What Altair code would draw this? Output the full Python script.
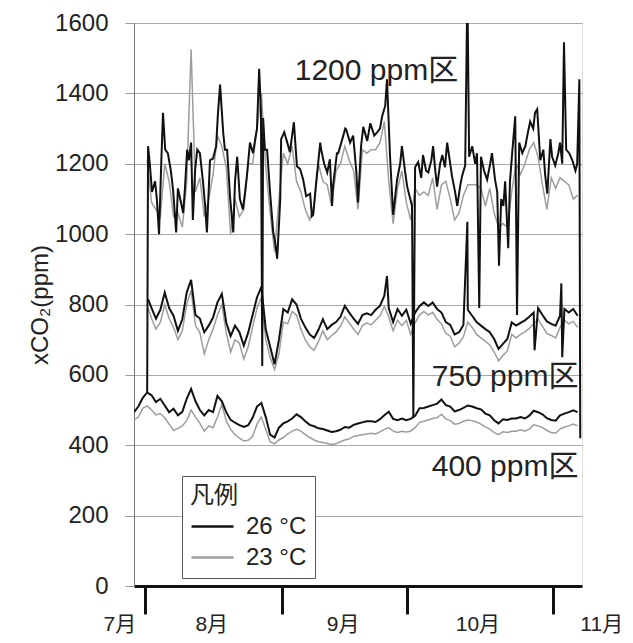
import altair as alt
import pandas as pd

# ---------------- data ----------------
# x = days from the left edge of the plot (about 28 July); y = xCO2 (ppm)

# 1200 ppm zone, 26 °C
days_1200_26 = [3.0, 3.2, 3.6, 4.1, 4.8, 5.2, 5.7, 6.2, 6.6, 7.1, 7.7, 8.4, 8.9, 9.6, 10.0, 10.7, 11.2, 11.6, 12.1, 12.5,
                13.0, 13.4, 13.9, 14.4, 15.0, 15.7, 16.2, 16.6, 17.3, 18.0, 18.7, 19.1, 19.6, 20.3, 20.7, 21.2, 21.9, 22.6, 23.0, 23.5,
                24.1, 24.8, 25.3, 25.7, 26.4, 27.1, 27.6, 28.0, 28.5, 28.9, 29.2, 29.4, 29.8, 30.3, 31.0, 31.7, 32.1, 32.6, 33.3, 33.5,
                34.2, 34.9, 35.5, 36.4, 37.1, 37.8, 38.5, 39.2, 40.1, 40.5, 40.8, 41.5, 42.4, 42.6, 43.3, 44.0, 44.6, 45.1, 45.3, 46.2,
                46.5, 47.2, 48.1, 48.3, 49.2, 49.9, 50.6, 51.0, 51.7, 52.2, 53.1, 53.8, 54.7, 55.4, 56.0, 56.5, 57.2, 57.6, 58.3, 59.0,
                59.9, 60.6, 61.0, 61.7, 62.2, 62.9, 63.3, 63.6, 64.0, 64.7, 65.4, 65.8, 66.5, 67.0, 67.7, 68.1, 68.6, 69.0, 69.7, 70.2,
                70.8, 71.3, 72.0, 72.4, 73.1, 73.6, 74.3, 74.7, 75.4, 75.9, 76.3, 77.0, 77.7, 78.1, 78.6, 79.0, 79.7, 80.4, 81.1, 81.5,
                82.2, 82.7, 83.1, 83.6, 84.1, 84.5, 85.2, 85.6, 86.1, 86.8, 87.2, 87.7, 88.4, 89.1, 89.7, 90.2, 90.9, 91.3, 91.8, 92.5,
                93.2, 93.6, 94.1, 94.8, 95.2, 95.9, 96.6, 97.0, 97.5, 97.9, 98.4, 99.1, 99.8, 100.5, 100.9, 101.4, 101.6]
co2_1200_26 = [550, 1250, 1200, 1120, 1150, 1100, 1000, 1200, 1345, 1240, 1230, 1180, 1125, 1005, 1130, 1090, 1060, 1130, 1240, 1210,
               1260, 1040, 1180, 1240, 1230, 1150, 1080, 1005, 1210, 1215, 1250, 1340, 1425, 1290, 1240, 1240, 1100, 1005, 1150, 1220,
               1100, 1070, 1120, 1165, 1260, 1230, 1270, 1300, 1470, 1350, 625, 1330, 1240, 1240, 1115, 1005, 980, 930, 1100, 1270,
               1290, 1260, 1233, 1318, 1193, 1185, 1156, 1108, 1115, 1051, 1055, 1150, 1260, 1241, 1200, 1175, 1213, 1080, 1135, 1230,
               1230, 1260, 1300, 1298, 1260, 1280, 1180, 1090, 1250, 1305, 1265, 1315, 1280, 1290, 1300, 1335, 1365, 1440, 1220, 1055,
               1155, 1200, 1250, 1180, 1135, 1100, 1080, 480, 1190, 1205, 1160, 1225, 1180, 1175, 1210, 1250, 1180, 1135, 1200, 1225,
               1190, 1260, 1200, 1165, 1120, 1080, 1140, 1165, 1195, 1700, 1220, 1250, 1200, 1230, 790, 1220, 1180, 1155, 1200, 1230,
               1155, 1120, 910, 1100, 1080, 1150, 960, 1150, 1230, 1335, 770, 1260, 1230, 1250, 1290, 1320, 1300, 1345, 1355, 1210,
               1240, 1170, 1115, 1270, 1220, 1195, 1230, 1260, 1200, 1545, 1240, 1230, 1210, 1180, 1200, 1440, 420]

# 1200 ppm zone, 23 °C (daily, day 3 .. 101)
co2_1200_23 = [1210, 1090, 1070, 1050, 1200, 1150, 1050, 1060, 1020, 1150,
               1525, 1120, 1160, 1050, 1100, 1170, 1280, 1250, 1190, 1000,
               1100, 1050, 1070, 1200, 1200, 1300, 1400, 1190, 1060, 950,
               1100, 1230, 1200, 1250, 1150, 1120, 1070, 1040, 1080, 1200,
               1150, 1140, 1080, 1180, 1200, 1250, 1210, 1180, 1070, 1240,
               1230, 1240, 1240, 1260, 1320, 1150, 1030, 1130, 1180, 1090,
               1040, 1130, 1110, 1120, 1110, 1160, 1070, 1140, 1150, 1100,
               1040, 1060, 1110, 1140, 1140, 1140, 1130, 1080, 1130, 1060,
               1020, 1030, 1020, 1120, 1200, 1170, 1200, 1240, 1260, 1220,
               1140, 1070, 1160, 1130, 1160, 1150, 1140, 1100, 1110]

# 750 ppm zone (first value at day 3.2, then daily from day 4 to 101)
co2_750_26 = [815, 790, 760, 785, 834, 790, 768, 725, 758, 834, 870, 770, 760, 721, 740, 763, 806, 830, 749, 710,
              740, 721, 683, 720, 770, 820, 850, 730, 680, 630, 700, 787, 777, 815, 800, 760, 735, 715, 705, 728,
              758, 730, 742, 750, 765, 796, 777, 760, 745, 770, 775, 770, 785, 796, 825, 790, 750, 787, 768, 785,
              745, 777, 795, 806, 796, 806, 787, 777, 750, 742, 715, 721, 742, 785, 768, 750, 740, 730, 721, 702,
              674, 688, 702, 749, 740, 748, 755, 765, 777, 790, 770, 752, 745, 740, 768, 787, 777, 787, 768]
co2_750_23 = [790, 760, 730, 750, 800, 760, 735, 700, 725, 800, 840, 740, 720, 660, 700, 730, 770, 800, 720, 665,
              700, 690, 645, 680, 735, 790, 820, 700, 650, 615, 660, 750, 745, 780, 770, 730, 700, 680, 670, 695,
              725, 700, 712, 722, 738, 765, 748, 730, 715, 740, 748, 742, 755, 768, 795, 765, 725, 755, 740, 755,
              715, 748, 770, 780, 770, 778, 758, 745, 718, 710, 680, 690, 708, 750, 735, 715, 705, 695, 685, 665,
              640, 655, 668, 715, 705, 715, 722, 732, 745, 758, 738, 718, 712, 705, 735, 755, 745, 752, 735]
# short excursions of the 750 ppm, 26 °C trace
spike_days_750 = [57.6, 75.9, 91.2, 97.3, 97.5]
spike_co2_750 = [881, 1035, 670, 860, 650]

# 400 ppm zone (daily, day 0 .. 101)
co2_400_26 = [494, 510, 535, 550, 542, 523, 532, 513, 494, 504,
              485, 495, 532, 560, 525, 500, 485, 500, 494, 540,
              525, 494, 472, 464, 457, 452, 457, 478, 510, 520,
              480, 430, 422, 450, 462, 468, 476, 488, 480, 468,
              458, 454, 448, 446, 442, 438, 440, 444, 452, 450,
              458, 462, 465, 468, 468, 466, 474, 485, 495, 475,
              471, 476, 471, 475, 484, 505, 506, 510, 514, 518,
              530, 514, 510, 496, 500, 506, 513, 510, 505, 502,
              490, 485, 471, 462, 474, 472, 476, 476, 480, 476,
              484, 498, 494, 488, 477, 472, 470, 485, 490, 494,
              499, 494]
co2_400_23 = [472, 480, 505, 512, 500, 486, 490, 478, 460, 442,
              448, 455, 470, 500, 480, 462, 440, 455, 450, 480,
              515, 470, 445, 430, 420, 412, 414, 425, 460, 480,
              445, 410, 404, 415, 422, 432, 440, 445, 440, 430,
              422, 415, 410, 408, 405, 402, 404, 410, 415, 418,
              425, 428, 430, 432, 434, 432, 438, 445, 450, 440,
              436, 440, 438, 440, 450, 465, 468, 472, 476, 478,
              488, 475, 470, 460, 462, 468, 472, 470, 466, 460,
              452, 446, 436, 430, 438, 436, 440, 440, 444, 440,
              446, 458, 455, 450, 442, 436, 434, 446, 452, 455,
              460, 455]

month_labels = ["7月", "8月", "9月", "10月", "11月"]
month_label_days = [-3.2, 17.7, 47.6, 78.3, 106.5]
month_tick_days = [2.5, 33.7, 62.2, 95.4]

zone_labels = ["1200 ppm区", "750 ppm区", "400 ppm区"]
zone_label_days = [73.8, 101.2, 101.2]
zone_label_co2 = [1463, 594, 338]

temps = ["26 °C", "23 °C"]

# ---------------- build table ----------------
assert len(days_1200_26) == len(co2_1200_26)
days_daily_1200 = [float(d) for d in range(3, 102)]
days_750 = [3.2] + [float(d) for d in range(4, 102)]
days_400 = [float(d) for d in range(0, 102)]

rows = []
def add(days, vals, temp, zone):
    for d, v in zip(days, vals):
        rows.append({"day": d, "co2": v, "temp": temp, "zone": zone})

add(days_1200_26, co2_1200_26, temps[0], "1200")
add(days_daily_1200, co2_1200_23, temps[1], "1200")
add(days_750 + spike_days_750, co2_750_26 + spike_co2_750, temps[0], "750")
add(days_750, co2_750_23, temps[1], "750")
add(days_400, co2_400_26, temps[0], "400")
add(days_400, co2_400_23, temps[1], "400")
df = pd.DataFrame(rows)

months_df = pd.DataFrame({"label": month_labels, "day": month_label_days})
zones_df = pd.DataFrame({"label": zone_labels, "day": zone_label_days, "co2": zone_label_co2})

FONT = "Liberation Sans, Noto Sans CJK JP, sans-serif"
PLOT_H = 563

x_scale = alt.Scale(domain=[0, 102], nice=False, zero=False)
y_scale = alt.Scale(domain=[0, 1600], nice=False)
color_scale = alt.Scale(domain=temps, range=["#111111", "#9d9d9d"])

x_axis = alt.Axis(values=month_tick_days, labels=False, grid=False, title=None,
                  tickSize=28, tickWidth=3, tickColor="#111", domainColor="#111", domainWidth=3)
y_axis = alt.Axis(values=list(range(0, 1601, 200)), format="d", grid=True, gridColor="#a8a8a8", gridWidth=1,
                  tickSize=9, tickColor="#999", domainColor="#777", labelFontSize=24, labelFont=FONT,
                  labelColor="#222", labelPadding=17, title="xCO₂(ppm)", titleFontSize=24,
                  titleFont=FONT, titleFontWeight="normal", titleColor="#222",
                  titleX=-94, titleY=PLOT_H / 2, titleAngle=270, titleAlign="center",
                  titleBaseline="middle")

legend = alt.Legend(orient="none", legendX=48, legendY=453, title="凡例", titleFont=FONT,
                    titleFontSize=24, titleFontWeight="normal", titleColor="#222",
                    labelFont=FONT, labelFontSize=24, labelColor="#222",
                    symbolType="M-1,0H1.8", symbolSize=900, symbolStrokeWidth=2.6,
                    strokeColor="#555", fillColor="white",
                    padding=8, rowPadding=2, labelOffset=23, titlePadding=2, titleAnchor="start")

base = alt.Chart(df)

def series_layer(temp, width):
    return base.transform_filter(alt.datum.temp == temp).mark_line(
        strokeWidth=width, clip=True, interpolate="linear"
    ).encode(
        x=alt.X("day:Q", scale=x_scale, axis=x_axis),
        y=alt.Y("co2:Q", scale=y_scale, axis=y_axis),
        color=alt.Color("temp:N", scale=color_scale, legend=legend),
        detail="zone:N",
        order="day:Q",
    )

gray = series_layer(temps[1], 1.5)
black = series_layer(temps[0], 2.0)

months = alt.Chart(months_df).mark_text(fontSize=21, font=FONT, color="#222", baseline="middle",
                                        align="center").encode(
    x=alt.X("day:Q", scale=x_scale),
    y=alt.value(PLOT_H + 39),
    text="label:N",
)

zones = alt.Chart(zones_df).mark_text(fontSize=30, font=FONT, color="#222", baseline="middle",
                                      align="right").encode(
    x=alt.X("day:Q", scale=x_scale),
    y=alt.Y("co2:Q", scale=y_scale),
    text="label:N",
)

chart = alt.layer(gray, black, zones, months).properties(
    width=448, height=PLOT_H,
    autosize=alt.AutoSizeParams(type="none"),
    padding={"left": 126, "top": 15, "right": 43, "bottom": 49},
).configure_view(stroke="#999", strokeWidth=1).configure(background="white")

chart.save("out.html", embed_options={"renderer": "svg", "actions": False})
